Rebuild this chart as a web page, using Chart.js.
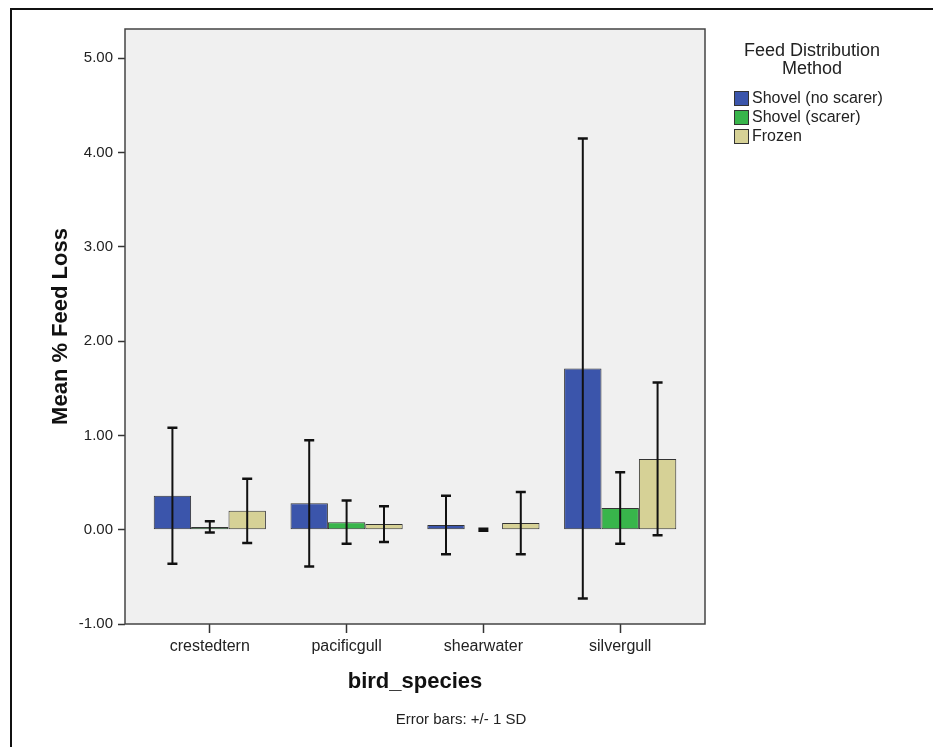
<!DOCTYPE html>
<html>
<head>
<meta charset="utf-8">
<script src="https://cdn.jsdelivr.net/npm/chart.js@4.4.1/dist/chart.umd.min.js"></script>
<style>
  html, body { margin: 0; padding: 0; background: #fff; }
  #wrap { position: relative; width: 933px; height: 747px; }
</style>
</head>
<body>
<div id="wrap"><canvas id="myChart"></canvas></div>
<script>
// data
const especies = ["crestedtern", "pacificgull", "shearwater", "silvergull"];
const metodos = ["Shovel (no scarer)", "Shovel (scarer)", "Frozen"];
const mediaSinScarer = [0.36, 0.28, 0.05, 1.71];
const sdSinScarer = [0.72, 0.67, 0.31, 2.44];
const mediaConScarer = [0.03, 0.08, 0.00, 0.23];
const sdConScarer = [0.06, 0.23, 0.01, 0.38];
const mediaFrozen = [0.20, 0.06, 0.07, 0.75];
const sdFrozen = [0.34, 0.19, 0.33, 0.81];
const ticksY = [-1, 0, 1, 2, 3, 4, 5];

const colores = ["#3b55ab", "#38b54b", "#d6d196"];
const fuente = "'Liberation Sans', Arial, sans-serif";

function serie(medias) {
    return medias.map((v, i) => ({ x: i, y: v }));
}

const data = {
    datasets: [
        { label: metodos[0], data: serie(mediaSinScarer), sd: sdSinScarer, backgroundColor: colores[0] },
        { label: metodos[1], data: serie(mediaConScarer), sd: sdConScarer, backgroundColor: colores[1] },
        { label: metodos[2], data: serie(mediaFrozen), sd: sdFrozen, backgroundColor: colores[2] },
    ],
};

// frame, plot background and page border
const fondo = {
    id: "fondo",
    beforeDraw(chart) {
        const { ctx, chartArea: a } = chart;
        ctx.save();
        ctx.fillStyle = "#f0f0f0";
        ctx.fillRect(a.left, a.top, a.right - a.left, a.bottom - a.top);
        ctx.strokeStyle = "#111";
        ctx.lineWidth = 2;
        ctx.beginPath();
        ctx.moveTo(11, chart.height);
        ctx.lineTo(11, 9);
        ctx.lineTo(chart.width, 9);
        ctx.stroke();
        ctx.restore();
    },
    afterDraw(chart) {
        const { ctx, chartArea: a } = chart;
        ctx.save();
        ctx.strokeStyle = "#444";
        ctx.lineWidth = 1.5;
        ctx.strokeRect(a.left, a.top, a.right - a.left, a.bottom - a.top);
        ctx.restore();
    },
};

// +/- 1 SD error bars
const barrasError = {
    id: "barrasError",
    afterDatasetsDraw(chart) {
        const { ctx } = chart;
        const y = chart.scales.y;
        ctx.save();
        ctx.strokeStyle = "#111";
        chart.data.datasets.forEach((ds, d) => {
            const meta = chart.getDatasetMeta(d);
            meta.data.forEach((bar, i) => {
                const m = ds.data[i].y;
                const yTop = y.getPixelForValue(m + ds.sd[i]);
                const yBot = y.getPixelForValue(m - ds.sd[i]);
                ctx.lineWidth = 2;
                ctx.beginPath();
                ctx.moveTo(bar.x, yTop);
                ctx.lineTo(bar.x, yBot);
                ctx.stroke();
                ctx.lineWidth = 2.5;
                ctx.beginPath();
                ctx.moveTo(bar.x - 5, yTop);
                ctx.lineTo(bar.x + 5, yTop);
                ctx.moveTo(bar.x - 5, yBot);
                ctx.lineTo(bar.x + 5, yBot);
                ctx.stroke();
            });
        });
        ctx.restore();
    },
};

// SPSS style legend and footnote
const leyenda = {
    id: "leyenda",
    afterDraw(chart) {
        const { ctx } = chart;
        ctx.save();
        ctx.fillStyle = "#222";
        ctx.textAlign = "center";
        ctx.textBaseline = "middle";
        ctx.font = "18px " + fuente;
        ctx.fillText("Feed Distribution", 812, 51);
        ctx.fillText("Method", 812, 69);
        ctx.font = "16px " + fuente;
        ctx.textAlign = "left";
        chart.data.datasets.forEach((ds, i) => {
            const yc = 98 + i * 19;
            ctx.fillStyle = ds.backgroundColor;
            ctx.fillRect(734, yc - 7, 15, 15);
            ctx.strokeStyle = "#333";
            ctx.lineWidth = 1;
            ctx.strokeRect(734.5, yc - 6.5, 14, 14);
            ctx.fillStyle = "#222";
            ctx.fillText(ds.label, 752, yc + 1);
        });
        ctx.font = "15px " + fuente;
        ctx.textAlign = "center";
        ctx.fillText("Error bars: +/- 1 SD", 461, 720);
        ctx.restore();
    },
};

const config = {
    type: "bar",
    data: data,
    options: {
        responsive: true,
        maintainAspectRatio: false,
        animation: false,
        layout: { padding: { left: 0, top: 29, right: 228, bottom: 0 } },
        datasets: {
            bar: {
                borderColor: "#333",
                borderWidth: 1,
                borderSkipped: false,
                barPercentage: 1,
                categoryPercentage: 0.82,
            },
        },
        plugins: {
            legend: { display: false },
            tooltip: { enabled: false },
        },
        scales: {
            x: {
                type: "linear",
                offset: false,
                min: -0.62,
                max: 3.62,
                afterBuildTicks: (scale) => {
                    scale.ticks = especies.map((e, i) => ({ value: i }));
                },
                afterFit: (scale) => { scale.height = 123; },
                grid: { offset: false, drawOnChartArea: false, tickLength: 9, color: "#333", tickWidth: 1.5 },
                border: { display: false },
                ticks: {
                    color: "#222",
                    padding: 4,
                    font: { family: fuente, size: 16 },
                    callback: (v) => especies[v],
                },
                title: {
                    display: true,
                    text: "bird_species",
                    color: "#111",
                    font: { family: fuente, size: 22, weight: "bold" },
                    padding: { top: 0, bottom: 52 },
                },
            },
            y: {
                min: -1,
                max: 5.31,
                afterBuildTicks: (scale) => {
                    scale.ticks = ticksY.map((v) => ({ value: v }));
                },
                afterFit: (scale) => { scale.width = 125; },
                grid: { drawOnChartArea: false, tickLength: 7, color: "#333", tickWidth: 1.5 },
                border: { display: false },
                ticks: {
                    color: "#222",
                    padding: 5,
                    font: { family: fuente, size: 15 },
                    callback: (v) => v.toFixed(2),
                },
                title: {
                    display: true,
                    text: "Mean % Feed Loss",
                    color: "#111",
                    font: { family: fuente, size: 22, weight: "bold" },
                    padding: { top: 48, bottom: 0 },
                },
            },
        },
    },
    plugins: [fondo, barrasError, leyenda],
};

const myChart = new Chart(document.getElementById("myChart").getContext("2d"), config);
</script>
</body>
</html>
